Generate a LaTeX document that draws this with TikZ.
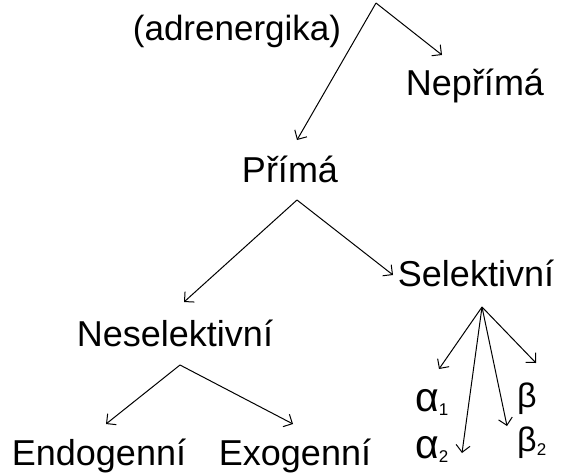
\documentclass[tikz,border=0pt]{standalone}
\usepackage{fontspec}
\setmainfont{Liberation Sans}
\usetikzlibrary{arrows.meta}
\tikzset{
  lbl/.style={anchor=base, inner sep=0pt, font=\fontsize{36}{40}\selectfont},
  grk/.style={anchor=base west, inner sep=0pt, font=\fontsize{34}{38}\selectfont},
  conn/.style={line width=1pt, -{Straight Barb[length=7pt,width=14pt,line width=1pt]}},
}
\newcommand{\sbs}[1]{\raisebox{-4pt}{\fontsize{17}{17}\selectfont #1}}
\newcommand{\alf}{{\fontsize{41}{41}\selectfont α}}
\begin{document}
\begin{tikzpicture}[x=1pt,y=-1pt]
\useasboundingbox (0,0) rectangle (562,475);
% text nodes
\node[lbl, font=\fontsize{35}{40}\selectfont] (adr) at (237,40) {(adrenergika)};
\node[lbl] (neprima) at (475,95) {Nepřímá};
\node[lbl] (prima) at (290,182) {Přímá};
\node[lbl] (sel) at (476,286) {Selektivní};
\node[lbl] (nesel) at (175,346) {Neselektivní};
\node[lbl] (endo) at (99,465) {Endogenní};
\node[lbl] (exo) at (295,465) {Exogenní};
\node[grk] (a1) at (415,411) {\alf\sbs{1}};
\node[grk] (a2) at (415,458) {\alf\sbs{2}};
\node[grk] (b) at (517,407) {β};
\node[grk] (b2) at (517,451) {β\sbs{2}};
% branching points
\coordinate (top) at (376,3);
\coordinate (pap) at (297,200);
\coordinate (nap) at (180,365);
\coordinate (sap) at (482,307);
% arrow ends
\coordinate (tNep) at (442,55);
\coordinate (tPri) at (297,140);
\coordinate (tNes) at (184,302);
\coordinate (tSel) at (393,275);
\coordinate (tEnd) at (106,424);
\coordinate (tExo) at (293,424);
\coordinate (tA1) at (439,369);
\coordinate (tA2) at (462,453);
\coordinate (tB2) at (507,426);
\coordinate (tB) at (536,363);
% connectors
\draw[conn] (top) -- (tNep);
\draw[conn] (top) -- (tPri);
\draw[conn] (pap) -- (tNes);
\draw[conn] (pap) -- (tSel);
\draw[conn] (nap) -- (tEnd);
\draw[conn] (nap) -- (tExo);
\draw[conn] (sap) -- (tA1);
\draw[conn] (sap) -- (tA2);
\draw[conn] (sap) -- (tB2);
\draw[conn] (sap) -- (tB);
\end{tikzpicture}
\end{document}
